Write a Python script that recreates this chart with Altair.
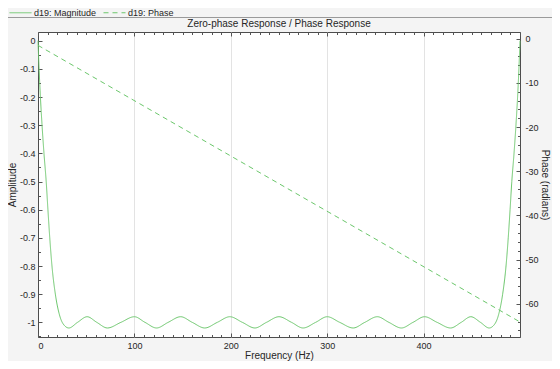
import altair as alt
import pandas as pd

# ---------------- values ----------------
freq_hz = [
    0, 1, 2.5, 4.2, 6.2, 8.5, 10.3, 12.2, 14.5, 18, 22, 26,
    32, 41, 51, 61, 72, 86, 100, 111, 123, 135, 148, 160, 173, 186, 199, 212,
    225, 237, 250, 263, 275, 288, 300, 313, 327, 339, 352, 364, 377, 389, 401,
    414, 428, 439, 449, 459, 468,
    474, 478, 482, 485.5, 487.8, 489.7, 491.5, 493.8, 495.8, 497.5, 499, 500,
]
amplitude = [
    0, -0.09, -0.2, -0.3, -0.4, -0.5, -0.6, -0.7, -0.8, -0.9, -0.97, -1.005,
    -1.02, -1.0, -0.98, -1.0, -1.02, -1.0, -0.98, -1.0, -1.02, -1.0, -0.98, -1.0, -1.02, -1.0, -0.98, -1.0,
    -1.02, -1.0, -0.98, -1.0, -1.02, -1.0, -0.98, -1.0, -1.02, -1.0, -0.98, -1.0, -1.02, -1.0, -0.98,
    -1.0, -1.02, -1.0, -0.98, -1.0, -1.02,
    -1.005, -0.97, -0.9, -0.8, -0.7, -0.6, -0.5, -0.4, -0.3, -0.2, -0.09, 0,
]
phase_freq_hz = [0, 500]
phase_rad = [-1.52, -64.1]

series_names = ["d19: Magnitude", "d19: Phase"]
chart_title = "Zero-phase Response / Phase Response"
x_title = "Frequency (Hz)"
amp_title = "Amplitude"
phase_title = "Phase (radians)"

x_label_values = [0, 100, 200, 300, 400]
amp_label_values = [-1.0, -0.9, -0.8, -0.7, -0.6, -0.5, -0.4, -0.3, -0.2, -0.1, 0.0]
phase_label_values = [-60, -50, -40, -30, -20, -10, 0]
x_tick_values = [10 * i for i in range(51)]
amp_tick_values = [round(-1.05 + 0.05 * i, 2) for i in range(22)]
phase_tick_values = [-66 + 2 * i for i in range(34)]

# ---------------- styling ----------------
W, H = 482, 305
FONT = "Liberation Sans"
GREEN = "#6cc76c"
INK = "#262626"
TICK = "#555555"

mag_df = pd.DataFrame({"freq": freq_hz, "amp": amplitude, "series": series_names[0]})
ph_df = pd.DataFrame({"freq": phase_freq_hz, "phase": phase_rad, "series": series_names[1]})

x_scale = alt.Scale(domain=[0, 500], nice=False, zero=False)
amp_scale = alt.Scale(domain=[-1.052, 0.031], nice=False, zero=False)
ph_scale = alt.Scale(domain=[-67.5, 1.5], nice=False, zero=False)
dash_scale = alt.Scale(domain=series_names, range=[[1, 0], [5, 4]])

legend = alt.Legend(
    orient="none", legendX=-29, legendY=-31, direction="horizontal", title=None,
    symbolType="stroke", symbolSize=484, symbolStrokeWidth=1, symbolStrokeColor=GREEN,
    labelFont=FONT, labelFontSize=9, labelColor=INK, labelOffset=2, columnPadding=4,
    padding=0,
)


def tick_axis(orient, offset, values, major_test):
    return alt.Axis(
        orient=orient, offset=offset, values=values, labels=False, domain=False,
        grid=False, title=None, ticks=True, tickColor=TICK, tickWidth=1,
        tickSize={"condition": {"test": major_test, "value": 4}, "value": 2.5},
    )


x_major = "datum.value % 100 === 0"
amp_major = "abs(datum.value * 10 - round(datum.value * 10)) < 0.001"
ph_major = "datum.value % 10 === 0"

mag_line = alt.Chart(mag_df).mark_line(color=GREEN, strokeWidth=1, interpolate="monotone").encode(
    x=alt.X("freq:Q", scale=x_scale, axis=alt.Axis(
        orient="bottom", values=x_label_values, ticks=False, domain=False, grid=True,
        gridColor="#e3e3e3", gridWidth=1,
        gridOpacity={"condition": {"test": "datum.value === 0", "value": 0}, "value": 1},
        labelPadding=4, title=x_title, titleX=W / 2, titleY=21.5, titleBaseline="alphabetic")),
    y=alt.Y("amp:Q", scale=amp_scale, axis=alt.Axis(
        orient="left", values=amp_label_values, ticks=False, domain=False, grid=False,
        labelPadding=3,
        labelExpr="datum.value === 0 ? '0' : '-' + format(-datum.value, '.1~f')",
        title=amp_title, titleX=-22.2, titleY=H / 2, titleBaseline="alphabetic")),
    strokeDash=alt.StrokeDash("series:N", scale=dash_scale, legend=legend),
)

phase_line = alt.Chart(ph_df).mark_line(color=GREEN, strokeWidth=1).encode(
    x=alt.X("freq:Q", scale=x_scale, axis=tick_axis("top", -H, x_tick_values, x_major)),
    y=alt.Y("phase:Q", scale=ph_scale, axis=alt.Axis(
        orient="right", values=phase_label_values, ticks=False, domain=False, grid=False,
        labelPadding=5,
        labelExpr="datum.value === 0 ? '0' : '-' + format(-datum.value, 'd')",
        title=phase_title, titleX=21.5, titleY=H / 2, titleBaseline="alphabetic")),
    strokeDash=alt.StrokeDash("series:N", scale=dash_scale, legend=legend),
)

mag_ticks = alt.Chart(mag_df).mark_line(strokeOpacity=0).encode(
    x=alt.X("freq:Q", scale=x_scale, axis=tick_axis("bottom", -H, x_tick_values, x_major)),
    y=alt.Y("amp:Q", scale=amp_scale, axis=tick_axis("right", -W, amp_tick_values, amp_major)),
)

ph_ticks = alt.Chart(ph_df).mark_line(strokeOpacity=0).encode(
    x=alt.X("freq:Q", scale=x_scale, axis=None),
    y=alt.Y("phase:Q", scale=ph_scale, axis=tick_axis("left", -W, phase_tick_values, ph_major)),
)

separator = alt.Chart().mark_rule(color="#9a9a9a", strokeWidth=1).encode(
    x=alt.value(-30), x2=alt.value(W + 32), y=alt.value(-14.5)
)

title_text = alt.Chart().mark_text(
    text=chart_title, font=FONT, fontSize=10, color=INK, align="center", baseline="alphabetic"
).encode(x=alt.value(W / 2), y=alt.value(-5))

chart = (
    alt.layer(mag_line, phase_line, mag_ticks, ph_ticks, separator, title_text)
    .resolve_scale(y="independent", strokeDash="shared")
    .resolve_axis(x="independent", y="independent")
    .properties(
        width=W, height=H,
        padding={"left": 30, "top": 24, "right": 32, "bottom": 24},
        autosize=alt.AutoSizeParams(type="none"),
        background="#f4f4f4",
    )
    .configure_view(fill="white", stroke="#4d4d4d", strokeWidth=1)
    .configure_axis(labelFont=FONT, labelFontSize=9, labelColor=INK,
                    titleFont=FONT, titleFontSize=10, titleFontWeight="normal", titleColor=INK)
)

chart.save("out.html", embed_options={"renderer": "svg", "actions": False})
